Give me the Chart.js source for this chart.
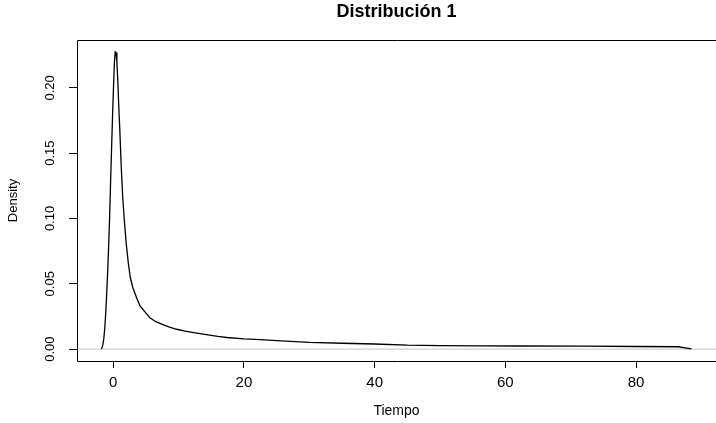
<!DOCTYPE html>
<html>
<head>
<meta charset="utf-8">
<script src="https://cdn.jsdelivr.net/npm/chart.js@4.4.0/dist/chart.umd.min.js"></script>
<style>
  html, body { margin: 0; padding: 0; background: #fff; overflow: hidden; }
</style>
</head>
<body>
<canvas id="densityChart" width="716" height="423"></canvas>
<script>
// Density curve, values
const tiempo = [-1.8, -1.6, -1.45, -1.3, -1.15, -1.0, -0.85, -0.7, -0.55, -0.4, -0.25, -0.1, 0.05, 0.18, 0.3, 0.42,
  0.55, 0.7, 0.85, 1.0, 1.2, 1.45, 1.7, 2.0, 2.3, 2.6, 3.0, 3.6, 4.1, 5.1, 5.6, 6.5, 7.5, 8.5, 9.7, 11, 12.3,
  14, 16, 17.4, 20, 22.5, 25, 30, 35, 40, 45, 50, 56, 62, 72, 80, 86.5, 87.5, 88.5];
const density = [0, 0.003, 0.008, 0.016, 0.028, 0.043, 0.060, 0.080, 0.102, 0.130, 0.155, 0.180, 0.203, 0.220, 0.2275, 0.227,
  0.220, 0.205, 0.185, 0.168, 0.142, 0.116, 0.098, 0.080, 0.066, 0.055, 0.047, 0.039, 0.033, 0.027, 0.024, 0.021, 0.019, 0.017, 0.0152, 0.0138, 0.0127,
  0.0113, 0.0097, 0.0089, 0.0078, 0.0073, 0.0065, 0.0052, 0.0045, 0.0039, 0.0030, 0.0027, 0.0025, 0.0024, 0.0023, 0.0020, 0.0018, 0.0010, 0.0001];

const xTicks = [0, 20, 40, 60, 80];
const yTicks = [0, 0.05, 0.10, 0.15, 0.20];
const yTickLabels = ['0.00', '0.05', '0.10', '0.15', '0.20'];
const xRange = [-5.55, 92.24];
const yRange = [-0.0091, 0.2366];

const FONT = "'Liberation Sans', Arial, sans-serif";

// box around the plot region (R style)
const plotBox = {
  id: 'plotBox',
  afterDraw(chart) {
    const { ctx, chartArea: a } = chart;
    ctx.save();
    ctx.strokeStyle = '#000';
    ctx.lineWidth = 1;
    ctx.beginPath();
    ctx.moveTo(a.right + 2, a.top + 0.5);
    ctx.lineTo(a.left + 0.5, a.top + 0.5);
    ctx.lineTo(a.left + 0.5, a.bottom + 0.5);
    ctx.lineTo(a.right + 2, a.bottom + 0.5);
    ctx.stroke();
    ctx.restore();
  }
};

new Chart(document.getElementById('densityChart'), {
  type: 'line',
  data: {
    datasets: [
      {
        data: tiempo.map((t, i) => ({ x: t, y: density[i] })),
        borderColor: '#000',
        borderWidth: 1.3,
        pointRadius: 0,
        tension: 0,
        fill: false
      },
      {
        // abline(h = 0, col = "gray")
        data: [{ x: xRange[0], y: 0 }, { x: xRange[1], y: 0 }],
        borderColor: '#c4c4c4',
        borderWidth: 1,
        pointRadius: 0,
        fill: false
      }
    ]
  },
  options: {
    responsive: false,
    animation: false,
    layout: { padding: 0 },
    plugins: {
      legend: { display: false },
      tooltip: { enabled: false }
    },
    scales: {
      // empty top axis, only carries the main title centred over the plot region
      top: {
        type: 'linear',
        position: 'top',
        min: xRange[0],
        max: xRange[1],
        afterFit: s => { s.height = 40; },
        ticks: { display: false },
        grid: { display: false },
        border: { display: false },
        title: { display: true, text: 'Distribución 1', color: '#000', font: { family: FONT, size: 18, weight: 'bold' }, padding: { top: 1.7, bottom: 0 } }
      },
      x: {
        type: 'linear',
        min: xRange[0],
        max: xRange[1],
        afterBuildTicks: s => { s.ticks = xTicks.map(v => ({ value: v })); },
        afterFit: s => { s.height = 62; },
        ticks: { color: '#000', font: { family: FONT, size: 15 }, padding: 6, maxRotation: 0, autoSkip: false },
        grid: { drawOnChartArea: false, drawTicks: true, tickLength: 7, color: '#000' },
        border: { display: false },
        title: { display: true, text: 'Tiempo', color: '#000', font: { family: FONT, size: 14 }, padding: { top: 0, bottom: 3 } }
      },
      y: {
        type: 'linear',
        min: yRange[0],
        max: yRange[1],
        afterBuildTicks: s => { s.ticks = yTicks.map(v => ({ value: v })); },
        afterFit: s => { s.width = 77; },
        ticks: {
          color: '#000', font: { family: FONT, size: 13 }, padding: 6,
          minRotation: 90, maxRotation: 90, crossAlign: 'center', autoSkip: false,
          callback: (v, i) => yTickLabels[i]
        },
        grid: { drawOnChartArea: false, drawTicks: true, tickLength: 8, color: '#000' },
        border: { display: false },
        title: { display: true, text: 'Density', color: '#000', font: { family: FONT, size: 13 }, padding: { top: 5.5, bottom: 0 } }
      }
    }
  },
  plugins: [plotBox]
});
</script>
</body>
</html>
